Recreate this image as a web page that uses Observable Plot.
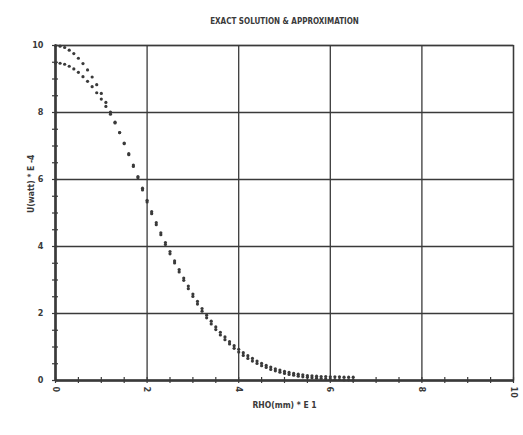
<!DOCTYPE html>
<html>
<head>
<meta charset="utf-8">
<script src="https://cdn.jsdelivr.net/npm/d3@7"></script>
<script src="https://cdn.jsdelivr.net/npm/@observablehq/plot@0.6"></script>
<style>
  html, body { margin: 0; padding: 0; background: #fff; }
  svg { font-family: "DejaVu Sans Condensed", "DejaVu Sans", sans-serif; }
</style>
</head>
<body>
<div id="chart"></div>
<script>
const title = "EXACT SOLUTION & APPROXIMATION";
const xLabel = "RHO(mm) * E 1";
const yLabel = "U(watt) * E -4";
const xTicks = [0, 2, 4, 6, 8, 10];
const yTicks = [0, 2, 4, 6, 8, 10];
const xMinor = [0,0.5,1,1.5,2,2.5,3,3.5,4,4.5,5,5.5,6,6.5,7,7.5,8,8.5,9,9.5,10];
const yMinor = [0,0.5,1,1.5,2,2.5,3,3.5,4,4.5,5,5.5,6,6.5,7,7.5,8,8.5,9,9.5,10];

const rho = [0.0,0.1,0.2,0.3,0.4,0.5,0.6,0.7,0.8,0.9,1.0,1.1,1.2,1.3,1.4,1.5,1.6,1.7,1.8,1.9,
  2.0,2.1,2.2,2.3,2.4,2.5,2.6,2.7,2.8,2.9,3.0,3.1,3.2,3.3,3.4,3.5,3.6,3.7,3.8,3.9,
  4.0,4.1,4.2,4.3,4.4,4.5,4.6,4.7,4.8,4.9,5.0,5.1,5.2,5.3,5.4,5.5,5.6,5.7,5.8,5.9,
  6.0,6.1,6.2,6.3,6.4,6.5];
const exact = [10.00,9.98,9.94,9.86,9.76,9.62,9.46,9.27,9.06,8.83,8.57,8.30,8.01,7.71,7.40,7.07,6.74,6.39,6.05,5.69,
  5.33,4.98,4.65,4.35,4.06,3.78,3.51,3.24,2.99,2.74,2.51,2.28,2.07,1.87,1.69,1.52,1.36,1.22,1.09,0.96,
  0.85,0.75,0.66,0.58,0.51,0.44,0.39,0.33,0.29,0.25,0.21,0.18,0.16,0.13,0.11,0.10,0.08,0.07,0.06,0.05,
  0.04,0.03,0.03,0.02,0.02,0.01];
const approx = [9.48,9.47,9.44,9.38,9.30,9.20,9.07,8.93,8.77,8.59,8.40,8.18,7.95,7.69,7.40,7.09,6.77,6.43,6.09,5.74,
  5.38,5.04,4.71,4.41,4.12,3.85,3.57,3.31,3.06,2.82,2.58,2.36,2.15,1.95,1.77,1.60,1.44,1.30,1.16,1.04,
  0.93,0.83,0.74,0.66,0.58,0.51,0.45,0.40,0.35,0.31,0.27,0.24,0.21,0.19,0.17,0.15,0.14,0.13,0.12,0.12,
  0.11,0.11,0.11,0.10,0.10,0.10];

const data = [];
rho.forEach((r, i) => {
  data.push({rho: r, u: exact[i], series: "exact"});
  data.push({rho: r, u: approx[i], series: "approx"});
});

const ink = "#3a3a3a";
const font = "DejaVu Sans Condensed, DejaVu Sans, sans-serif";

const chart = Plot.plot({
  width: 523,
  height: 435,
  marginTop: 45,
  marginBottom: 55,
  marginLeft: 55,
  marginRight: 10,
  style: {background: "#fff", color: ink, fontFamily: font},
  x: {domain: [0, 10], label: null},
  y: {domain: [0, 10], label: null},
  marks: [
    Plot.gridX(xTicks, {stroke: ink, strokeOpacity: 1, strokeWidth: 1.3}),
    Plot.gridY(yTicks, {stroke: ink, strokeOpacity: 1, strokeWidth: 1.3}),
    Plot.frame({stroke: ink, strokeWidth: 1.3}),
    Plot.ruleX([0], {stroke: ink, strokeWidth: 2.6}),
    Plot.ruleY([0], {stroke: ink, strokeWidth: 2.6}),
    Plot.axisY({ticks: yMinor, tickSize: 6, dx: 3, text: null, label: null, stroke: ink, strokeWidth: 1.2}),
    Plot.axisX({ticks: xMinor, tickSize: 6, dy: -3, text: null, label: null, stroke: ink, strokeWidth: 1.2}),
    Plot.axisY({ticks: yTicks, tickSize: 0, tickPadding: 12, fontSize: 9, fontWeight: "bold", fill: ink, label: null}),
    Plot.axisX({ticks: xTicks, tickSize: 0, tickPadding: 6, tickRotate: 90, fontSize: 9, fontWeight: "bold", fill: ink, label: null}),
    Plot.dot(data, {x: "rho", y: "u", r: 1.6, fill: ink, stroke: null}),
    Plot.text([title], {frameAnchor: "top", dy: -27, fontSize: 8, fontWeight: "bold", fill: ink, style: "letter-spacing:0.6px"}),
    Plot.text([xLabel], {frameAnchor: "bottom", dy: 27, fontSize: 8.5, fontWeight: "bold", fill: ink}),
    Plot.text([yLabel], {frameAnchor: "left", dx: -24, rotate: -90, fontSize: 8.5, fontWeight: "bold", fill: ink})
  ]
});
document.getElementById("chart").appendChild(chart);
</script>
</body>
</html>
